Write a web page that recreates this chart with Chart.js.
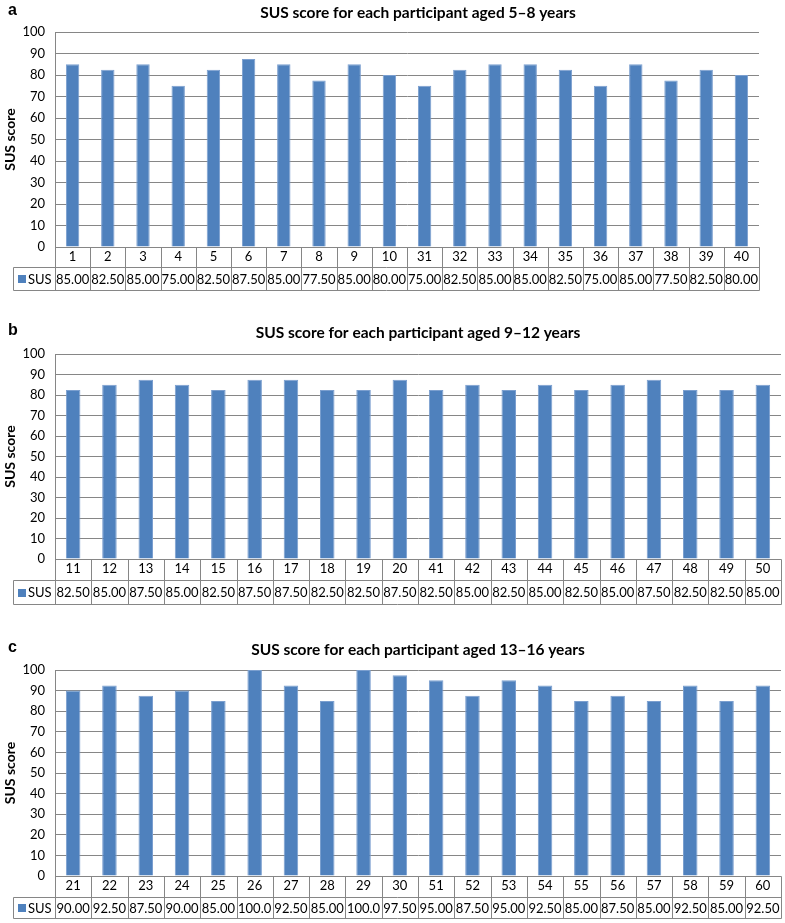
<!DOCTYPE html>
<html>
<head>
<meta charset="utf-8">
<script src="https://cdn.jsdelivr.net/npm/chart.js@4"></script>
<style>
  html, body { margin: 0; padding: 0; background: #fff; }
  body { width: 785px; height: 923px; position: relative; overflow: hidden; }
  .panel { position: absolute; left: 0; width: 785px; }
</style>
</head>
<body>
<div class="panel" style="top:0;height:300px"><canvas id="chartA"></canvas></div>
<div class="panel" style="top:300px;height:310px"><canvas id="chartB"></canvas></div>
<div class="panel" style="top:610px;height:313px"><canvas id="chartC"></canvas></div>
<script>
// ---- Data ----
const participantsA = ['1','2','3','4','5','6','7','8','9','10','31','32','33','34','35','36','37','38','39','40'];
const susA = [85, 82.5, 85, 75, 82.5, 87.5, 85, 77.5, 85, 80, 75, 82.5, 85, 85, 82.5, 75, 85, 77.5, 82.5, 80];

const participantsB = ['11','12','13','14','15','16','17','18','19','20','41','42','43','44','45','46','47','48','49','50'];
const susB = [82.5, 85, 87.5, 85, 82.5, 87.5, 87.5, 82.5, 82.5, 87.5, 82.5, 85, 82.5, 85, 82.5, 85, 87.5, 82.5, 82.5, 85];

const participantsC = ['21','22','23','24','25','26','27','28','29','30','51','52','53','54','55','56','57','58','59','60'];
const susC = [90, 92.5, 87.5, 90, 85, 100, 92.5, 85, 100, 97.5, 95, 87.5, 95, 92.5, 85, 87.5, 85, 92.5, 85, 92.5];

const titles = [
  'SUS score for each participant aged 5\u20138 years',
  'SUS score for each participant aged 9\u201312 years',
  'SUS score for each participant aged 13\u201316 years'
];
const panelLetters = ['a', 'b', 'c'];
const seriesName = 'SUS';
const yAxisTitle = 'SUS score';
const yTicks = [0, 10, 20, 30, 40, 50, 60, 70, 80, 90, 100];

// ---- Styling ----
const BAR = '#4F81BD';
const GRID = '#868686';
const FONT = 'Lato, "Open Sans", sans-serif';

function fmt(v) { return v >= 100 ? v.toFixed(1) : v.toFixed(2); }

const headerPlugin = {
  id: 'header',
  afterDraw(chart, args, o) {
    const ctx = chart.ctx;
    ctx.save();
    ctx.fillStyle = '#000';
    ctx.textBaseline = 'middle';
    ctx.font = 'bold 16px "Liberation Sans", Arial, sans-serif';
    ctx.textAlign = 'left';
    ctx.fillText(o.letter, 8, o.y - 2);
    ctx.font = 'bold 15.5px ' + FONT;
    ctx.textAlign = 'center';
    ctx.fillText(o.title, o.cx, o.y);
    ctx.restore();
  }
};

const tablePlugin = {
  id: 'dataTable',
  afterDraw(chart, args, o) {
    const ctx = chart.ctx;
    const { left, right, bottom } = chart.chartArea;
    const n = chart.data.labels.length;
    const xs = chart.scales.x;
    const w = (right - left) / n;
    const y0 = Math.round(bottom) + 0.5;
    const y1 = y0 + o.h1;
    const y2 = y1 + o.h2;
    const L = Math.round(left) + 0.5;
    const R = Math.round(right) + 0.5;
    const T = 13.5;
    ctx.save();
    ctx.strokeStyle = GRID;
    ctx.lineWidth = 1;
    ctx.beginPath();
    ctx.moveTo(L, y0); ctx.lineTo(R, y0);
    ctx.moveTo(T, y1); ctx.lineTo(R, y1);
    ctx.moveTo(T, y2); ctx.lineTo(R, y2);
    ctx.moveTo(L, y0); ctx.lineTo(L, y2);
    ctx.moveTo(T, y1); ctx.lineTo(T, y2);
    for (let i = 1; i <= n; i++) {
      const x = Math.round(left + i * w) + 0.5;
      ctx.moveTo(x, y0); ctx.lineTo(x, y2);
    }
    ctx.stroke();
    const ym = (y1 + y2) / 2;
    ctx.fillStyle = BAR;
    ctx.fillRect(18, Math.round(ym - 4), 8, 8);
    ctx.fillStyle = '#000';
    ctx.font = '13px ' + FONT;
    ctx.textAlign = 'left';
    ctx.textBaseline = 'middle';
    ctx.fillText(seriesName, 28, ym + 0.5);
    ctx.textAlign = 'center';
    const data = chart.data.datasets[0].data;
    data.forEach((v, i) => {
      ctx.fillText(fmt(v), xs.getPixelForValue(i), ym + 0.5);
    });
    ctx.restore();
  }
};

function makeChart(id, labels, values, idx, geom) {
  return new Chart(document.getElementById(id), {
    type: 'bar',
    data: {
      labels: labels,
      datasets: [{
        label: seriesName,
        data: values,
        backgroundColor: BAR,
        borderColor: '#7b9fcf',
        borderWidth: { top: 1, left: 1, right: 1, bottom: 0 },
        categoryPercentage: 1,
        barPercentage: geom.bp
      }]
    },
    options: {
      responsive: true,
      maintainAspectRatio: false,
      devicePixelRatio: 1,
      animation: false,
      layout: { padding: { left: 0, right: geom.padR, top: geom.padT, bottom: geom.padB } },
      plugins: {
        legend: { display: false },
        tooltip: { enabled: false },
        header: { letter: panelLetters[idx], title: titles[idx], cx: 418, y: geom.titleY },
        dataTable: { h1: geom.h1, h2: geom.h2 }
      },
      scales: {
        x: {
          grid: { display: false, drawTicks: false },
          border: { display: false },
          ticks: {
            color: '#000', font: { family: FONT, size: 13 },
            padding: 2, maxRotation: 0, autoSkip: false
          },
          afterFit(s) { s.height = geom.h1; }
        },
        y: {
          min: 0, max: 100,
          afterBuildTicks(s) { s.ticks = yTicks.map(v => ({ value: v })); },
          grid: { color: GRID, lineWidth: 1, drawTicks: false },
          border: { display: true, color: GRID, width: 1 },
          ticks: { color: '#000', font: { family: FONT, size: 13 }, padding: 10 },
          title: {
            display: true, text: yAxisTitle, color: '#000',
            font: { family: FONT, size: 14, weight: 'bold' },
            padding: { top: 2, bottom: 2 }
          },
          afterFit(s) { s.width = 55; }
        }
      }
    },
    plugins: [headerPlugin, tablePlugin]
  });
}

makeChart('chartA', participantsA, susA, 0,
  { padR: 26, padT: 32, padB: 300 - 247 - 20, h1: 20, h2: 23, titleY: 13, bp: 0.38 });
makeChart('chartB', participantsB, susB, 1,
  { padR: 4, padT: 54, padB: 310 - 259 - 21, h1: 21, h2: 24, titleY: 33, bp: 0.40 });
makeChart('chartC', participantsC, susC, 2,
  { padR: 4, padT: 60, padB: 313 - 266 - 21, h1: 21, h2: 21, titleY: 40, bp: 0.40 });
</script>
</body>
</html>
